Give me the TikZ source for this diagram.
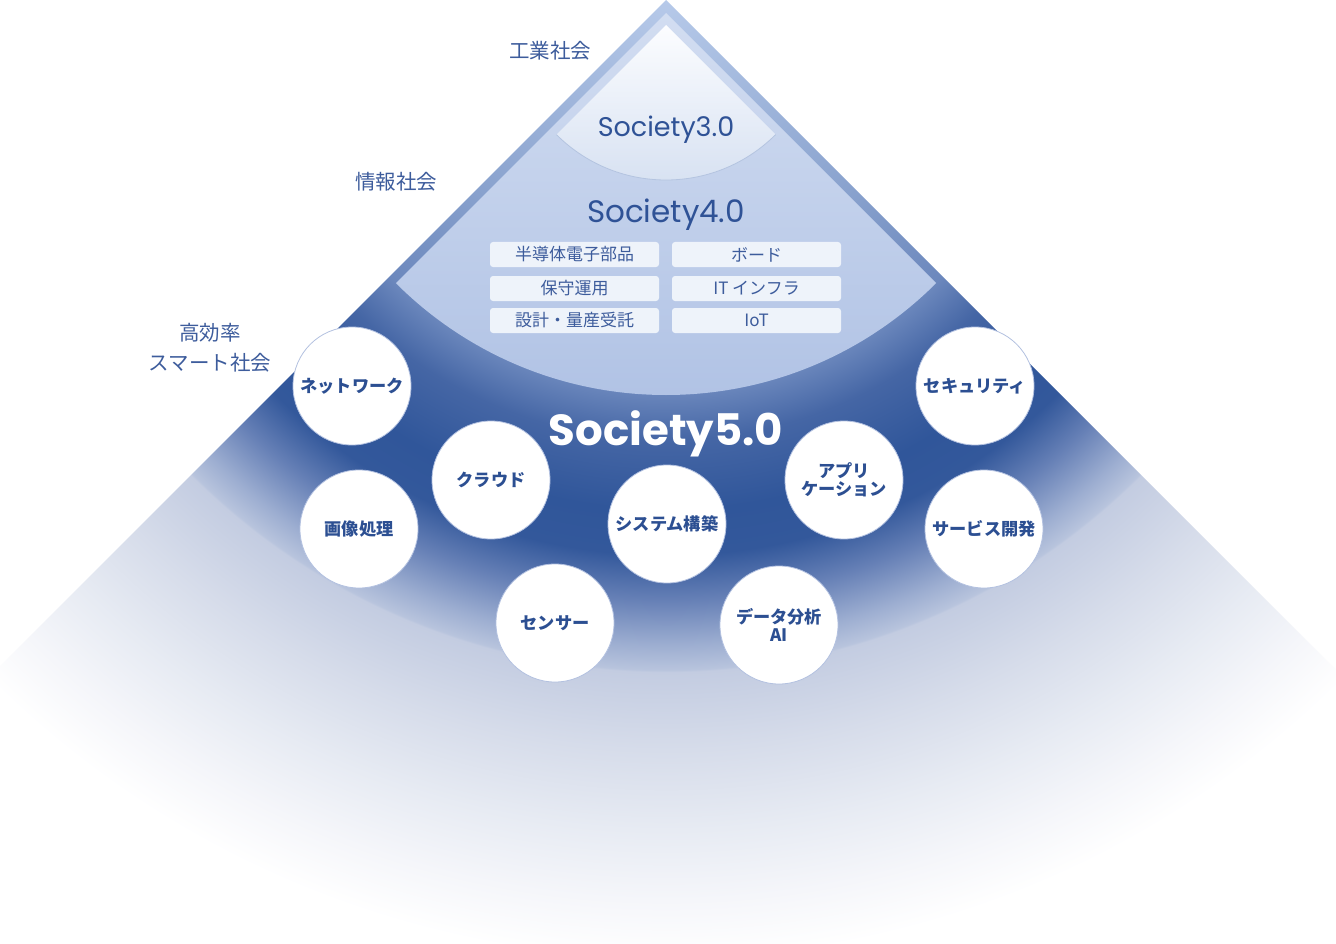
\documentclass[tikz,border=0pt]{standalone}
\usepackage{fontspec}
\newfontfamily\jp{Noto Sans CJK JP}
\newfontfamily\pop{Poppins}
\definecolor{s0}{HTML}{B6C9E9}
\definecolor{s1}{HTML}{A9BEE1}
\definecolor{s2}{HTML}{88A1CD}
\definecolor{s3}{HTML}{6C88BD}
\definecolor{s4}{HTML}{4566A5}
\definecolor{s5}{HTML}{30569A}
\definecolor{s5b}{HTML}{33589B}
\definecolor{s6}{HTML}{6680B6}
\definecolor{s7}{HTML}{9DAED1}
\definecolor{s8}{HTML}{B8C4DD}
\definecolor{s9}{HTML}{C3CCE1}
\definecolor{s10}{HTML}{D6DCEA}
\definecolor{s11}{HTML}{E7EBF3}
\definecolor{s12}{HTML}{F5F6FA}
\definecolor{c4top}{HTML}{D2DDF1}
\definecolor{c4bot}{HTML}{B1C3E5}
\definecolor{c3top}{HTML}{FCFDFF}
\definecolor{c3bot}{HTML}{D8E2F2}
\definecolor{c3line}{HTML}{B4C4E0}
\definecolor{boxc}{HTML}{EEF3FA}
\definecolor{lbl}{HTML}{3D5C9C}
\definecolor{soc}{HTML}{2F5296}
\definecolor{circ}{HTML}{2C4F92}
\definecolor{bubedge}{HTML}{B3C1E0}
\pgfdeclareradialshading{sfive}{\pgfpoint{0bp}{0bp}}{%
color(0bp)=(s0); color(2bp)=(s1); color(6.75bp)=(s2); color(9.75bp)=(s3);
color(11bp)=(s4); color(12.75bp)=(s5); color(13.875bp)=(s5b); color(15bp)=(s6);
color(16.125bp)=(s7); color(16.75bp)=(s8); color(16.8bp)=(s9); color(18.75bp)=(s10);
color(20.75bp)=(s11); color(22.5bp)=(s12); color(24bp)=(white); color(50bp)=(white)}
\tikzset{
  bub/.style={circle, fill=white, draw=bubedge, line width=0.8pt, minimum size=118pt,
    inner sep=0pt, align=center, text=circ,
    font=\jp\bfseries\fontsize{17.2}{18}\selectfont},
  cell/.style={rounded corners=3pt, fill=boxc, minimum width=169pt, minimum height=25pt,
    inner sep=0pt, text=lbl, font=\jp\fontsize{17}{18}\selectfont},
  side/.style={text=lbl, inner sep=0pt, align=center, font=\jp\fontsize{20.5}{30}\selectfont}
}
\begin{document}
\begin{tikzpicture}[x=1pt,y=-1pt]
\useasboundingbox (0,0) rectangle (1336,944);
\fill[white] (0,0) rectangle (1336,944);
% Society 5.0 region
\begin{scope}
  \clip (0,0) rectangle (1336,944);
  \clip (666,0) -- (-700,1366) -- (2032,1366) -- cycle;
  \shade[shading=sfive] (666,0) circle[radius=1000pt];
\end{scope}
% Society 4.0 sector
\begin{scope}
  \clip (666,13) circle[radius=382pt];
  \shade[top color=c4top, bottom color=c4bot] (666,13) -- (284,395) -- (1048,395) -- cycle;
\end{scope}
% Society 3.0 sector
\begin{scope}
  \clip (666,25) circle[radius=155pt];
  \shade[top color=c3top, bottom color=c3bot] (666,25) -- (511,180) -- (821,180) -- cycle;
\end{scope}
\begin{scope}
  \clip (666,25) -- (411,280) -- (921,280) -- cycle;
  \draw[c3line, line width=0.8pt] (666,25) circle[radius=155pt];
\end{scope}
% titles
\node[anchor=base, text=soc, font=\pop\fontsize{27}{30}\selectfont] (t3) at (666,137) {Society3.0};
\node[anchor=base, text=soc, font=\pop\fontsize{31}{34}\selectfont] (t4) at (666,223) {Society4.0};
\node[anchor=base, text=white, font=\pop\bfseries\fontsize{43.5}{48}\selectfont] (t5) at (666,445) {Society5.0};
% side labels
\node[side] (l1) at (550,50.5) {工業社会};
\node[side] (l2) at (396,181.5) {情報社会};
\node[side] (l3) at (210,347.5) {高効率\\スマート社会};
% boxes
\node[cell] (b1) at (574.5,254.5) {半導体電子部品};
\node[cell] (b2) at (756.5,254.5) {ボード};
\node[cell] (b3) at (574.5,288.5) {保守運用};
\node[cell] (b4) at (756.5,288.5) {IT インフラ};
\node[cell] (b5) at (574.5,320.5) {設計・量産受託};
\node[cell] (b6) at (756.5,320.5) {IoT};
% bubbles
\node[bub] (net) at (352,386) {ネットワーク};
\node[bub] (img) at (359,529) {画像処理};
\node[bub] (cloud) at (491,480) {クラウド};
\node[bub] (sys) at (667,524) {システム構築};
\node[bub] (sen) at (555,623) {センサー};
\node[bub] (app) at (844,480) {アプリ\\ケーション};
\node[bub] (sec) at (975,386) {セキュリティ};
\node[bub] (svc) at (984,529) {サービス開発};
\node[bub] (dat) at (779,625) {データ分析\\AI};
\end{tikzpicture}
\end{document}
